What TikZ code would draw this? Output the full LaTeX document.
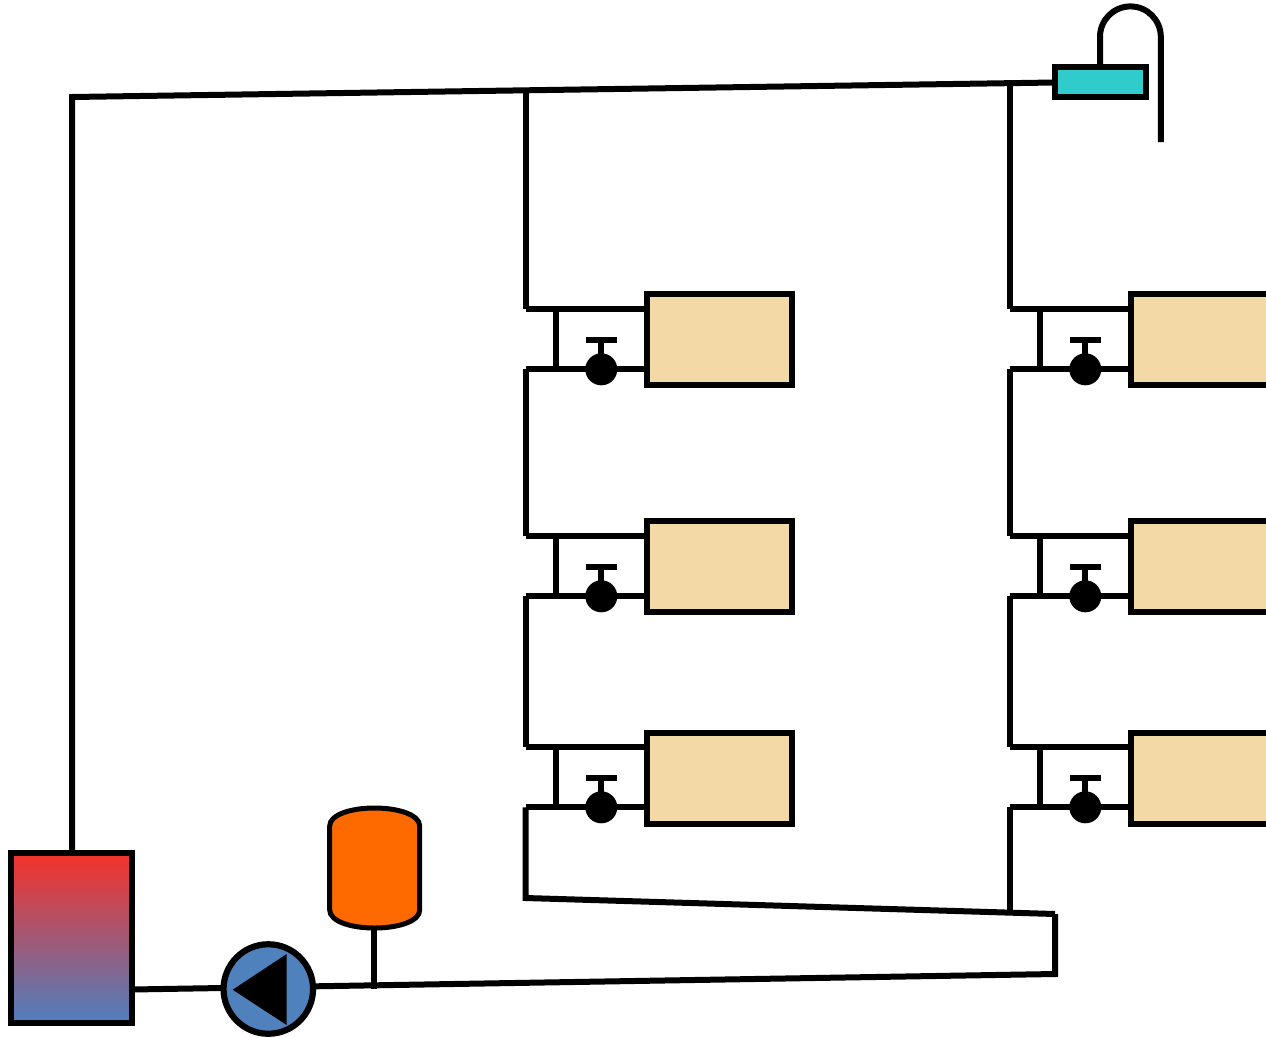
\documentclass[tikz,border=0pt]{standalone}
\usetikzlibrary{backgrounds}
\definecolor{radfill}{HTML}{F3D9A6}
\definecolor{tankfill}{HTML}{30CCCC}
\definecolor{vesselfill}{HTML}{FF6A00}
\definecolor{pumpfill}{HTML}{4F81BD}
\definecolor{boilertop}{HTML}{F5322A}
\definecolor{boilerbot}{HTML}{4F7FBF}
\tikzset{
  pipe/.style={draw=black,line width=6pt,line cap=butt,line join=miter},
  radiator/.style={draw=black,line width=6pt,fill=radfill,rectangle,inner sep=0pt,outer sep=0pt,minimum width=145pt,minimum height=90.5pt,anchor=north west},
  valvebody/.style={circle,fill=black,inner sep=0pt,outer sep=0pt,minimum size=32pt},
  expansion/.style={draw=black,line width=6pt,fill=tankfill,rectangle,inner sep=0pt,outer sep=0pt,minimum width=91pt,minimum height=30pt,anchor=north west},
  boiler/.style={draw=black,line width=6pt,rectangle,inner sep=0pt,outer sep=0pt,minimum width=121pt,minimum height=169.5pt,anchor=north west,top color=boilertop,bottom color=boilerbot},
  pump/.style={draw=black,line width=6.2pt,fill=pumpfill,circle,inner sep=0pt,outer sep=0pt,minimum size=89.5pt}
}
\begin{document}
\begin{tikzpicture}[x=1pt,y=-1pt]
\useasboundingbox (0,0) rectangle (1266,1037);
\clip (0,0) rectangle (1266,1037);
% coordinates
\coordinate (topL) at (72,97);
\coordinate (topA) at (525.5,90.5);
\coordinate (topB) at (1009.5,84);
\coordinate (tankin) at (1054.5,82.5);
\coordinate (retA) at (525.5,898);
\coordinate (retB) at (1009.5,912);
\coordinate (retC) at (1055,914);
\coordinate (retD) at (1055,974);
\coordinate (pumpin) at (222,988);
\coordinate (pumpout) at (315,986.3);
\coordinate (boilerout) at (132,989.5);
\coordinate (vesseltee) at (374.3,989);
\coordinate (vesselbot) at (374.3,928);
\coordinate (ventstart) at (1100,67);
\coordinate (ventend) at (1160.8,142);
% equipment
\node[boiler] (boiler) at (11,853) {};
\node[pump] (pump) at (268.3,989) {};
\node[expansion] (tank) at (1054.5,67) {};
\fill[black] (232.7,989.7) -- (286.7,954) -- (286.7,1025) -- cycle;
\draw[draw=black,line width=5pt,fill=vesselfill]
  (329.7,826) .. controls (329.7,815) and (350,808) .. (374.5,808)
  .. controls (399,808) and (419.7,815) .. (419.7,826)
  -- (419.7,910) .. controls (419.7,921) and (399,928) .. (374.5,928)
  .. controls (350,928) and (329.7,921) .. (329.7,910) -- cycle;
% radiator columns
\foreach \col/\dx in {A/0,B/484}{
  \foreach \r/\ya/\yb/\yc in {1/309/369.3/294,2/536/596.3/521,3/747/807.3/733}{
    \node[radiator] (rad\col\r) at (646.5+\dx,\yc) {};
    \node[valvebody] (valve\col\r) at (601.3+\dx,\yb) {};
    \coordinate (sup\col\r) at (525.5+\dx,\ya);
    \coordinate (ret\col\r) at (525.5+\dx,\yb);
    \coordinate (bysup\col\r) at (556+\dx,\ya);
    \coordinate (byret\col\r) at (556+\dx,\yb);
    \coordinate (stem\col\r) at (601.3+\dx,\yb-29.3);
    \begin{scope}[on background layer]
      \draw[pipe] (sup\col\r) -- (sup\col\r -| rad\col\r.west);
      \draw[pipe] (ret\col\r) -- (valve\col\r.center) -- (ret\col\r -| rad\col\r.west);
      \draw[pipe] (bysup\col\r) -- (byret\col\r);
      \draw[pipe] (valve\col\r.center) -- (stem\col\r);
      \draw[pipe] ([xshift=-15.5pt]stem\col\r) -- ([xshift=15.5pt]stem\col\r);
    \end{scope}
  }
  \begin{scope}[on background layer]
    \draw[pipe] (ret\col1) -- (sup\col2);
    \draw[pipe] (ret\col2) -- (sup\col3);
  \end{scope}
}
% distribution
\begin{scope}[on background layer]
  \draw[pipe] (boiler.north -| topL) -- (topL) -- (tankin);
  \draw[pipe] (topA) -- (supA1);
  \draw[pipe] (topB) -- (supB1);
  \draw[pipe] (retA3) -- (retA) -- (retC);
  \draw[pipe] (retB3) -- (retB);
  \draw[pipe] (retC) -- (retD) -- (pumpout);
  \draw[pipe] (boilerout) -- (pumpin);
  \draw[pipe] (vesselbot) -- (vesseltee);
  \draw[pipe] (ventstart) -- (1100,36.8) arc[start angle=180,end angle=360,radius=30.4] -- (ventend);
\end{scope}
\end{tikzpicture}
\end{document}
